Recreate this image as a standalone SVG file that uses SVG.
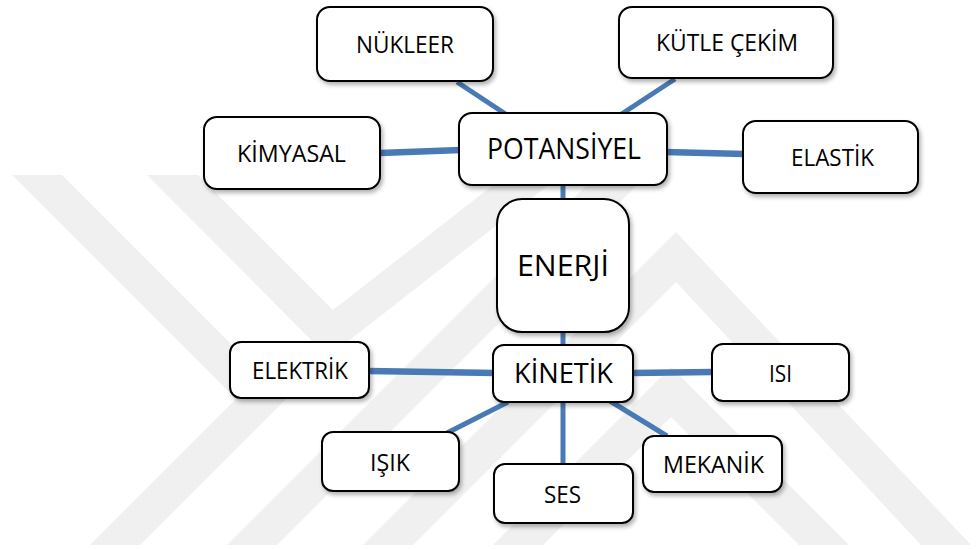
<svg xmlns="http://www.w3.org/2000/svg" width="979" height="549" viewBox="0 0 979 549">
  <style>
    .wm { fill: #f0f0f0; }
    .box { fill: #ffffff; stroke: #000000; stroke-width: 2; filter: url(#shadow); }
    .link { stroke: #4a7ab5; stroke-width: 5; stroke-linecap: butt; fill: none; }
    .wide { stroke-width: 6.5; }
    .lbl { font-family: "Open Sans", "Noto Sans", "DejaVu Sans", sans-serif; font-size: 24.5px; fill: #000000; text-anchor: middle; }
    .big { font-size: 28.5px; }
  </style>
  <defs>
    <filter id="shadow" x="-10%" y="-10%" width="125%" height="135%">
      <feDropShadow dx="2" dy="3" stdDeviation="2" flood-color="#000000" flood-opacity="0.3"/>
    </filter>
    <clipPath id="wmclip">
      <rect x="0" y="175" width="979" height="370"/>
    </clipPath>
  </defs>

  <rect width="979" height="549" fill="#ffffff"/>

  <!-- faint background emblem -->
  <g id="emblem" clip-path="url(#wmclip)">
    <polygon class="wm" points="12,175 62,175 286,399 140,545 90,545 236,399"/>
    <polygon class="wm" points="147,175 198,175 333,310 506,175 561,175 328,357"/>
    <polygon class="wm" points="227,545 277,545 647,175 597,175"/>
    <polygon class="wm" points="363,545 413,545 676,282 921,545 971,545 676,232"/>
    <polygon class="wm" points="493,545 543,545 671,417 799,545 849,545 671,367"/>
  </g>

  <!-- connectors -->
  <g id="connectors">
    <line class="link" x1="457" y1="82" x2="510" y2="117"/>
    <line class="link" x1="675" y1="79" x2="617" y2="117"/>
    <line class="link wide" x1="380" y1="153" x2="461" y2="150"/>
    <line class="link wide" x1="665" y1="152" x2="744" y2="154"/>
    <line class="link" x1="563" y1="184" x2="563" y2="200"/>
    <line class="link" x1="563" y1="331" x2="563" y2="346"/>
    <line class="link wide" x1="369" y1="371" x2="495" y2="373"/>
    <line class="link wide" x1="632" y1="373" x2="713" y2="372"/>
    <line class="link" x1="508" y1="402" x2="447" y2="433"/>
    <line class="link" x1="563" y1="401" x2="563" y2="465"/>
    <line class="link" x1="610" y1="401" x2="667" y2="436"/>
  </g>

  <g id="n-nukleer">
    <rect class="box" x="317" y="7" width="176" height="74" rx="13"/>
    <text class="lbl" x="405" y="53" textLength="98" lengthAdjust="spacingAndGlyphs">NÜKLEER</text>
  </g>
  <g id="n-kutle-cekim">
    <rect class="box" x="619" y="7" width="214" height="71" rx="13"/>
    <text class="lbl" x="727" y="51" textLength="142" lengthAdjust="spacingAndGlyphs">KÜTLE ÇEKİM</text>
  </g>
  <g id="n-kimyasal">
    <rect class="box" x="204" y="117" width="176" height="72" rx="13"/>
    <text class="lbl" x="291.5" y="162" textLength="109" lengthAdjust="spacingAndGlyphs">KİMYASAL</text>
  </g>
  <g id="n-potansiyel">
    <rect class="box" x="459" y="113" width="208" height="72" rx="13"/>
    <text class="lbl big" x="564" y="159" textLength="154" lengthAdjust="spacingAndGlyphs">POTANSİYEL</text>
  </g>
  <g id="n-elastik">
    <rect class="box" x="743" y="121" width="175" height="72" rx="13"/>
    <text class="lbl" x="832.5" y="166" textLength="83" lengthAdjust="spacingAndGlyphs">ELASTİK</text>
  </g>
  <g id="n-enerji">
    <rect class="box" x="497" y="199" width="132" height="133" rx="25"/>
    <text class="lbl" x="563" y="276" style="font-size:30px" textLength="92" lengthAdjust="spacingAndGlyphs">ENERJİ</text>
  </g>
  <g id="n-kinetik">
    <rect class="box" x="493" y="345" width="140" height="57" rx="11"/>
    <text class="lbl" x="563.5" y="383" style="font-size:27.5px" textLength="99" lengthAdjust="spacingAndGlyphs">KİNETİK</text>
  </g>
  <g id="n-elektrik">
    <rect class="box" x="230" y="342" width="139" height="56" rx="11"/>
    <text class="lbl" x="300" y="379" textLength="96" lengthAdjust="spacingAndGlyphs">ELEKTRİK</text>
  </g>
  <g id="n-isi">
    <rect class="box" x="712" y="344" width="137" height="57" rx="11"/>
    <text class="lbl" x="780.5" y="381.5" textLength="23" lengthAdjust="spacingAndGlyphs">ISI</text>
  </g>
  <g id="n-isik">
    <rect class="box" x="322" y="432" width="137" height="59" rx="11"/>
    <text class="lbl" x="390" y="470.5" textLength="40" lengthAdjust="spacingAndGlyphs">IŞIK</text>
  </g>
  <g id="n-ses">
    <rect class="box" x="494" y="464" width="139" height="59" rx="11"/>
    <text class="lbl" x="562.5" y="502.5" textLength="37" lengthAdjust="spacingAndGlyphs">SES</text>
  </g>
  <g id="n-mekanik">
    <rect class="box" x="643" y="436" width="139" height="56" rx="11"/>
    <text class="lbl" x="713.5" y="473" textLength="101" lengthAdjust="spacingAndGlyphs">MEKANİK</text>
  </g>
</svg>
